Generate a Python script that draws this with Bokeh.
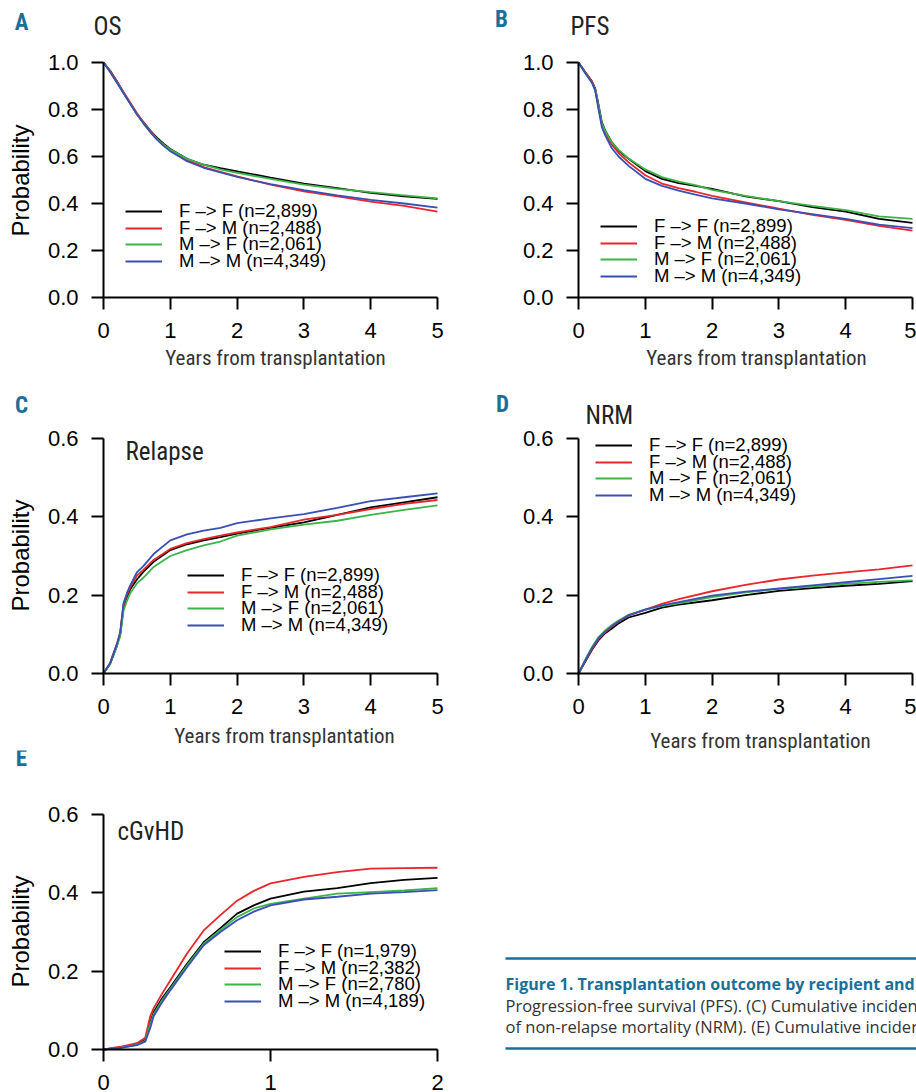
import math
from bokeh.plotting import figure
from bokeh.layouts import column, row
from bokeh.models import (Range1d, Label, Legend, LegendItem, BoxAnnotation,
                          FixedTicker, PrintfTickFormatter, LinearAxis)
from bokeh.embed import file_html
from bokeh.resources import INLINE

# ---------------- data ----------------
groups = ["F –> F", "F –> M", "M –> F", "M –> M"]
group_colors = ["#000000", "#e8262b", "#3cb44a", "#3a4fb4"]
n_main = ["2,899", "2,488", "2,061", "4,349"]
n_cgvhd = ["1,979", "2,382", "2,780", "4,189"]

# A: overall survival
os_years = [0, 0.1, 0.2, 0.3, 0.4, 0.5, 0.6, 0.7, 0.8, 0.9, 1.0, 1.25, 1.5, 1.75, 2.0, 2.5, 3.0, 3.5, 4.0, 4.5, 5.0]
os_ff = [1.0, 0.965, 0.92, 0.87, 0.825, 0.78, 0.745, 0.71, 0.68, 0.655, 0.632, 0.59, 0.565, 0.55, 0.537, 0.51, 0.485, 0.465, 0.445, 0.43, 0.42]
os_fm = [1.0, 0.965, 0.92, 0.875, 0.83, 0.785, 0.745, 0.71, 0.675, 0.65, 0.628, 0.585, 0.555, 0.535, 0.515, 0.48, 0.452, 0.43, 0.408, 0.39, 0.365]
os_mf = [1.0, 0.96, 0.915, 0.87, 0.825, 0.78, 0.74, 0.705, 0.675, 0.65, 0.63, 0.59, 0.565, 0.545, 0.53, 0.505, 0.48, 0.462, 0.448, 0.435, 0.422]
os_mm = [1.0, 0.96, 0.915, 0.87, 0.825, 0.78, 0.74, 0.705, 0.672, 0.645, 0.622, 0.58, 0.552, 0.532, 0.513, 0.482, 0.457, 0.435, 0.415, 0.4, 0.382]

# B: progression-free survival
pfs_years = [0, 0.1, 0.2, 0.25, 0.3, 0.35, 0.4, 0.5, 0.6, 0.75, 1.0, 1.25, 1.5, 1.75, 2.0, 2.5, 3.0, 3.5, 4.0, 4.5, 5.0]
pfs_ff = [1.0, 0.96, 0.92, 0.89, 0.82, 0.745, 0.71, 0.66, 0.625, 0.59, 0.538, 0.505, 0.487, 0.475, 0.462, 0.43, 0.41, 0.385, 0.365, 0.335, 0.318]
pfs_fm = [1.0, 0.96, 0.92, 0.885, 0.81, 0.735, 0.7, 0.65, 0.615, 0.575, 0.52, 0.485, 0.465, 0.45, 0.432, 0.405, 0.378, 0.352, 0.33, 0.305, 0.285]
pfs_mf = [1.0, 0.955, 0.915, 0.885, 0.815, 0.74, 0.71, 0.66, 0.628, 0.592, 0.545, 0.512, 0.493, 0.478, 0.458, 0.432, 0.41, 0.39, 0.372, 0.345, 0.335]
pfs_mm = [1.0, 0.955, 0.915, 0.88, 0.8, 0.725, 0.69, 0.635, 0.6, 0.56, 0.505, 0.475, 0.455, 0.438, 0.422, 0.4, 0.375, 0.355, 0.335, 0.31, 0.295]

# C: relapse
rel_years = [0, 0.1, 0.2, 0.25, 0.3, 0.35, 0.4, 0.5, 0.6, 0.75, 1.0, 1.25, 1.5, 1.75, 2.0, 2.5, 3.0, 3.5, 4.0, 4.5, 5.0]
rel_ff = [0, 0.025, 0.07, 0.1, 0.17, 0.195, 0.215, 0.24, 0.26, 0.285, 0.315, 0.33, 0.34, 0.348, 0.357, 0.372, 0.386, 0.405, 0.424, 0.437, 0.45]
rel_fm = [0, 0.027, 0.075, 0.105, 0.175, 0.2, 0.22, 0.25, 0.265, 0.29, 0.318, 0.333, 0.343, 0.352, 0.36, 0.374, 0.393, 0.405, 0.42, 0.433, 0.443]
rel_mf = [0, 0.025, 0.07, 0.095, 0.16, 0.185, 0.205, 0.23, 0.245, 0.272, 0.3, 0.315, 0.327, 0.337, 0.352, 0.368, 0.38, 0.39, 0.405, 0.418, 0.429]
rel_mm = [0, 0.027, 0.075, 0.105, 0.18, 0.205, 0.225, 0.258, 0.275, 0.305, 0.34, 0.355, 0.365, 0.372, 0.384, 0.396, 0.407, 0.423, 0.44, 0.45, 0.46]

# D: non-relapse mortality
nrm_years = [0, 0.1, 0.2, 0.3, 0.4, 0.5, 0.6, 0.75, 1.0, 1.25, 1.5, 2.0, 2.5, 3.0, 3.5, 4.0, 4.5, 5.0]
nrm_ff = [0, 0.03, 0.06, 0.085, 0.103, 0.115, 0.128, 0.143, 0.155, 0.168, 0.176, 0.187, 0.2, 0.211, 0.218, 0.224, 0.229, 0.236]
nrm_fm = [0, 0.032, 0.062, 0.088, 0.105, 0.12, 0.132, 0.148, 0.163, 0.178, 0.19, 0.21, 0.226, 0.24, 0.25, 0.258, 0.266, 0.276]
nrm_mf = [0, 0.035, 0.067, 0.093, 0.11, 0.124, 0.135, 0.15, 0.163, 0.172, 0.179, 0.195, 0.207, 0.216, 0.222, 0.229, 0.234, 0.238]
nrm_mm = [0, 0.033, 0.064, 0.09, 0.107, 0.121, 0.133, 0.149, 0.163, 0.174, 0.182, 0.199, 0.209, 0.217, 0.225, 0.233, 0.241, 0.249]

# E: chronic GvHD
gvhd_years = [0, 0.1, 0.2, 0.25, 0.28, 0.3, 0.35, 0.4, 0.5, 0.6, 0.7, 0.8, 0.9, 1.0, 1.2, 1.4, 1.6, 1.8, 2.0]
gvhd_ff = [0, 0.005, 0.013, 0.025, 0.07, 0.095, 0.13, 0.159, 0.219, 0.274, 0.31, 0.347, 0.368, 0.385, 0.403, 0.412, 0.425, 0.433, 0.438]
gvhd_fm = [0, 0.007, 0.016, 0.03, 0.085, 0.105, 0.142, 0.176, 0.245, 0.304, 0.343, 0.38, 0.405, 0.424, 0.441, 0.453, 0.462, 0.463, 0.464]
gvhd_mf = [0, 0.004, 0.012, 0.022, 0.065, 0.09, 0.125, 0.155, 0.215, 0.27, 0.305, 0.338, 0.36, 0.372, 0.385, 0.398, 0.402, 0.406, 0.412]
gvhd_mm = [0, 0.004, 0.011, 0.02, 0.055, 0.085, 0.12, 0.151, 0.21, 0.266, 0.3, 0.33, 0.352, 0.368, 0.383, 0.39, 0.398, 0.402, 0.407]

ticks_5y = [0, 1, 2, 3, 4, 5]
ticks_2y = [0, 1, 2]
ticks_p10 = [0.0, 0.2, 0.4, 0.6, 0.8, 1.0]
ticks_p06 = [0.0, 0.2, 0.4, 0.6]

xlabel_text = "Years from transplantation"
ylabel_text = "Probability"
caption_title = "Figure 1. Transplantation outcome by recipient and donor sex."
caption_line2 = "Progression-free survival (PFS). (C) Cumulative incidence"
caption_line3 = "of non-relapse mortality (NRM). (E) Cumulative incidence"

# ---------------- style ----------------
SANS = "Liberation Sans"
COND = "Roboto Condensed"
TEAL = "#1b6f98"
LEG_STEP = 16.6


def panel(fig_box, plot_box, xmax, ymax, xticks, yticks, years, series, ns,
          letter, letter_c, title, title_l, legend_first, xlabel_c, ylabel_c):
    fx, fy, W, H = fig_box
    L, T, R, B = plot_box
    xs = xmax / (R - L)
    ys = ymax / (B - T)
    p = figure(width=W, height=H,
               x_range=Range1d((fx - L) * xs, (fx + W - L) * xs),
               y_range=Range1d((B - (fy + H)) * ys, (B - fy) * ys),
               x_axis_type=None, y_axis_type=None,
               output_backend="svg", toolbar_location=None, min_border=0)
    p.title.visible = False
    p.outline_line_color = None
    p.grid.visible = False

    def sx(px):
        return px - fx

    def sy(py):
        return fy + H - py

    xaxis = LinearAxis(fixed_location=0, bounds=(0, xmax), ticker=FixedTicker(ticks=xticks))
    yaxis = LinearAxis(fixed_location=0, bounds=(0, ymax), ticker=FixedTicker(ticks=yticks),
                       formatter=PrintfTickFormatter(format="%.1f"))
    for ax in (xaxis, yaxis):
        ax.axis_line_width = 2
        ax.axis_line_color = "black"
        ax.major_tick_line_width = 2
        ax.major_tick_line_color = "black"
        ax.major_tick_in = 0
        ax.major_tick_out = 12
        ax.minor_tick_line_color = None
        ax.major_label_text_font = SANS
        ax.major_label_text_font_size = "22px"
        ax.major_label_text_color = "black"
    xaxis.major_label_standoff = 13
    yaxis.major_label_standoff = 13
    p.add_layout(xaxis, "below")
    p.add_layout(yaxis, "left")

    for i, (vals, color, g, n) in enumerate(zip(series, group_colors, groups, ns)):
        r = p.line(years, vals, line_color=color, line_width=1.8)
        row_c = legend_first[1] + i * LEG_STEP
        leg = Legend(items=[LegendItem(label=f"{g} (n={n})", renderers=[r])],
                     location=(sx(legend_first[0]), sy(row_c + 11)),
                     glyph_width=37, glyph_height=22, label_height=22,
                     label_standoff=17, spacing=0, padding=0, margin=0,
                     label_text_font=SANS, label_text_font_size="18.5px",
                     label_text_color="black",
                     background_fill_alpha=0, border_line_alpha=0)
        p.add_layout(leg)

    p.add_layout(Label(x=sx(letter_c[0]), y=sy(letter_c[1]), x_units="screen", y_units="screen",
                       text=letter, text_font=COND, text_font_style="bold",
                       text_font_size="23px", text_color=TEAL,
                       text_align="center", text_baseline="middle"))
    p.add_layout(Label(x=sx(title_l[0]), y=sy(title_l[1]), x_units="screen", y_units="screen",
                       text=title, text_font=COND, text_font_size="25px",
                       text_color="#222222", text_align="left", text_baseline="middle"))
    if xlabel_c is not None:
        p.add_layout(Label(x=sx(xlabel_c[0]), y=sy(xlabel_c[1]), x_units="screen", y_units="screen",
                           text=xlabel_text, text_font=COND, text_font_size="21px",
                           text_color="#333333", text_align="center",
                           text_baseline="middle"))
    if ylabel_c is not None:
        p.add_layout(Label(x=sx(ylabel_c[0]), y=sy(ylabel_c[1]), x_units="screen", y_units="screen",
                           text=ylabel_text, text_font=SANS, text_font_size="24px",
                           text_color="black", text_align="center", text_baseline="middle",
                           angle=math.pi / 2))
    return p


pA = panel((0, 0, 460, 370), (103, 62, 437, 297), 5, 1.0, ticks_5y, ticks_p10, os_years,
           [os_ff, os_fm, os_mf, os_mm], n_main,
           "A", (21, 22), "OS", (93, 26), (125, 211), (275, 357), (20, 180))
pB = panel((460, 0, 456, 370), (578, 62, 912, 297), 5, 1.0, ticks_5y, ticks_p10, pfs_years,
           [pfs_ff, pfs_fm, pfs_mf, pfs_mm], n_main,
           "B", (501, 19), "PFS", (570, 26), (600, 226), (756, 357), None)
pC = panel((0, 370, 460, 380), (103, 438, 437, 673), 5, 0.6, ticks_5y, ticks_p06, rel_years,
           [rel_ff, rel_fm, rel_mf, rel_mm], n_main,
           "C", (21, 405), "Relapse", (125, 451), (187, 575), (284, 735), (20, 555))
pD = panel((460, 370, 456, 390), (578, 438, 912, 673), 5, 0.6, ticks_5y, ticks_p06, nrm_years,
           [nrm_ff, nrm_fm, nrm_mf, nrm_mm], n_main,
           "D", (502, 404), "NRM", (585, 415), (595, 445), (760, 740), None)
pE = panel((0, 750, 460, 342), (103, 814, 437, 1049), 2, 0.6, ticks_2y, ticks_p06, gvhd_years,
           [gvhd_ff, gvhd_fm, gvhd_mf, gvhd_mm], n_cgvhd,
           "E", (21, 758), "cGvHD", (117, 831), (224, 951), None, (20, 931))

# caption panel: data coordinates equal page pixels
cap = figure(width=456, height=332, x_range=Range1d(460, 916), y_range=Range1d(1092, 760),
             x_axis_type=None, y_axis_type=None, output_backend="svg",
             toolbar_location=None, min_border=0)
cap.title.visible = False
cap.outline_line_color = None
cap.grid.visible = False
cap.add_layout(BoxAnnotation(left=505, right=916, top=956.8, bottom=959.2,
                             fill_color=TEAL, fill_alpha=1, line_color=None))
cap.add_layout(BoxAnnotation(left=505, right=916, top=1046.7, bottom=1049.3,
                             fill_color=TEAL, fill_alpha=1, line_color=None))
cap.add_layout(Label(x=505, y=983, text=caption_title, text_font="Open Sans",
                     text_font_style="bold", text_font_size="16px", text_color=TEAL,
                     text_baseline="middle"))
cap.add_layout(Label(x=505, y=1005, text=caption_line2, text_font="Open Sans",
                     text_font_size="16.5px", text_color="#333333", text_baseline="middle"))
cap.add_layout(Label(x=505, y=1026, text=caption_line3, text_font="Open Sans",
                     text_font_size="16.5px", text_color="#333333", text_baseline="middle"))

layout = row(column(pA, pC, pE), column(pB, pD, cap))

open("out.html", "w").write(file_html(layout, INLINE))
